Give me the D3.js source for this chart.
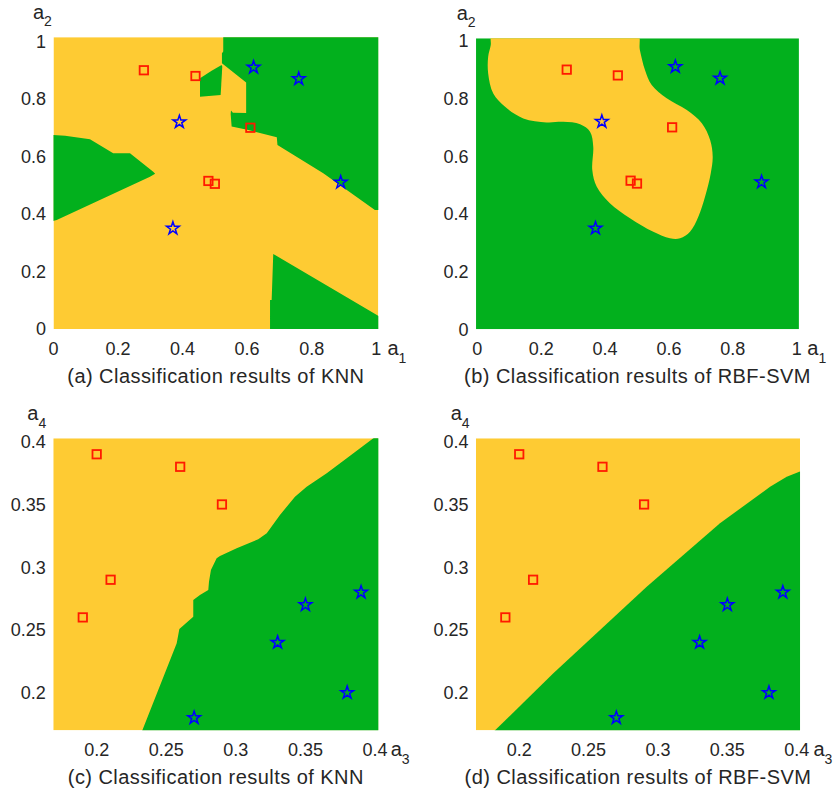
<!DOCTYPE html>
<html>
<head>
<meta charset="utf-8">
<script src="https://cdn.jsdelivr.net/npm/d3@7"></script>
<style>
body { margin: 0; background: #fff; }
text { font-family: "Liberation Sans", Arial, Helvetica, sans-serif; fill: #262626; }
</style>
</head>
<body>
<div id="chart"></div>
<script>
// training samples in the a1/a2 plane (panels a and b)
var squares12 = [[0.28, 0.90], [0.44, 0.88], [0.61, 0.70], [0.48, 0.515], [0.50, 0.505]];
var stars12 = [[0.62, 0.91], [0.76, 0.87], [0.39, 0.72], [0.89, 0.51], [0.37, 0.35]];

// training samples in the a3/a4 plane (panels c and d)
var squares34 = [[0.20, 0.39], [0.26, 0.38], [0.29, 0.35], [0.21, 0.29], [0.19, 0.26]];
var stars34 = [[0.27, 0.18], [0.33, 0.24], [0.35, 0.27], [0.38, 0.20], [0.39, 0.28]];

var ticks12 = [0, 0.2, 0.4, 0.6, 0.8, 1];
var ticks34 = [0.2, 0.25, 0.3, 0.35, 0.4];

// decision regions (data coordinates)
var knn12Green = [
  [[0.526, 1.03], [0.526, 0.965], [0.522, 0.959], [0.522, 0.924], [0.597, 0.857], [0.597, 0.751],
   [0.556, 0.752], [0.550, 0.760], [0.549, 0.748], [0.552, 0.704], [0.604, 0.692], [0.692, 0.667],
   [0.694, 0.640], [0.836, 0.542], [0.996, 0.414], [1.02, 0.414], [1.02, 1.03]],
  [[0.454, 0.872], [0.490, 0.898], [0.521, 0.918], [0.523, 0.912], [0.518, 0.814], [0.454, 0.808]],
  [[-0.01, 0.675], [0.036, 0.672], [0.113, 0.660], [0.185, 0.611], [0.237, 0.611], [0.309, 0.547],
   [0.315, 0.540], [0.299, 0.530], [0.010, 0.379], [-0.01, 0.373]],
  [[0.681, 0.261], [1.02, 0.037], [1.02, -0.01], [0.671, -0.01], [0.671, 0.101], [0.676, 0.101]]
];

var svm12Yellow = [
  [0.048, 1.03], [0.499, 1.03], [0.509, 0.968], [0.525, 0.899], [0.546, 0.847], [0.593, 0.801],
  [0.656, 0.760], [0.703, 0.714], [0.729, 0.656], [0.737, 0.598], [0.731, 0.541], [0.713, 0.459],
  [0.692, 0.390], [0.666, 0.338], [0.635, 0.315], [0.603, 0.315], [0.551, 0.338], [0.478, 0.385],
  [0.415, 0.437], [0.374, 0.494], [0.360, 0.552], [0.363, 0.633], [0.353, 0.685], [0.322, 0.711],
  [0.269, 0.719], [0.217, 0.717], [0.144, 0.731], [0.087, 0.771], [0.050, 0.817], [0.034, 0.887],
  [0.034, 0.945], [0.042, 0.985]
];

var knn34Green = [
  [[0.3988, 0.4027], [0.41, 0.41], [0.41, 0.165], [0.231, 0.165], [0.2575, 0.2394], [0.2594, 0.2508],
   [0.2694, 0.2606], [0.2694, 0.2739], [0.2742, 0.2778], [0.2802, 0.2818], [0.2807, 0.2884],
   [0.2821, 0.2978], [0.2862, 0.3071], [0.2886, 0.3089], [0.3006, 0.3151], [0.3161, 0.3222],
   [0.3222, 0.3270], [0.3317, 0.3416], [0.3425, 0.3562], [0.3509, 0.3641], [0.3653, 0.3748],
   [0.3797, 0.3868]]
];

var svm34Green = [
  [[0.178, 0.165], [0.1826, 0.17], [0.2246, 0.2155], [0.2919, 0.2845], [0.3447, 0.3350],
   [0.3808, 0.3641], [0.3928, 0.3721], [0.4019, 0.3761], [0.41, 0.378], [0.41, 0.165]]
];

var yellow = '#fecb33';
var green = '#02b01d';

var panels = [
  {caption: '(a) Classification results of KNN', xDomain: [0, 1], yDomain: [0, 1],
   xRange: [53.5, 376.2], yRange: [329, 41.5], ext: [[0, 1.0065], [0, 1.015]],
   ticks: ticks12, xSub: '1', ySub: '2', bg: yellow, fg: green, regions: knn12Green, smooth: false,
   squares: squares12, stars: stars12, xLabDx: 9.2, yLabDx: -20.6},
  {caption: '(b) Classification results of RBF-SVM', xDomain: [0, 1], yDomain: [0, 1],
   xRange: [477.3, 796.7], yRange: [329.2, 40.8], ext: [[-0.004, 1.007], [0, 1.0087]],
   ticks: ticks12, xSub: '1', ySub: '2', bg: green, fg: yellow, regions: [svm12Yellow], smooth: true,
   squares: squares12, stars: stars12, xLabDx: 8.4, yLabDx: -19.3},
  {caption: '(c) Classification results of KNN', xDomain: [0.17, 0.4], yDomain: [0.17, 0.4],
   xRange: [54.95, 375], yRange: [730.35, 441.7], ext: [[0.1688, 0.4024], [0.17, 0.4027]],
   ticks: ticks34, xSub: '3', ySub: '4', bg: yellow, fg: green, regions: knn34Green, smooth: false,
   squares: squares34, stars: stars34, xLabDx: 12.4, yLabDx: -26},
  {caption: '(d) Classification results of RBF-SVM', xDomain: [0.17, 0.4], yDomain: [0.17, 0.4],
   xRange: [477.6, 796.7], yRange: [730.35, 441.7], ext: [[0.1688, 0.4024], [0.17, 0.4027]],
   ticks: ticks34, xSub: '3', ySub: '4', bg: yellow, fg: green, regions: svm34Green, smooth: false,
   squares: squares34, stars: stars34, xLabDx: 13.4, yLabDx: -25.3}
];

var svg = d3.select('#chart')
  .append('svg')
  .attr('width', 834)
  .attr('height', 793);

panels.forEach(function(p, i) {
  drawPanel(p, i);
});

function drawPanel(p, i) {
  var x = d3.scaleLinear().domain(p.xDomain).range(p.xRange);
  var y = d3.scaleLinear().domain(p.yDomain).range(p.yRange);

  var left = x(p.ext[0][0]), right = x(p.ext[0][1]);
  var top = y(p.ext[1][1]), bottom = y(p.ext[1][0]);

  var g = svg.append('g');

  g.append('clipPath')
    .attr('id', 'clip' + i)
    .append('rect')
    .attr('x', left).attr('y', top)
    .attr('width', right - left).attr('height', bottom - top);

  var area = g.append('g').attr('clip-path', 'url(#clip' + i + ')');

  area.append('rect')
    .attr('x', left).attr('y', top)
    .attr('width', right - left).attr('height', bottom - top)
    .attr('fill', p.bg);

  var line = d3.line()
    .x(function(d) { return x(d[0]); })
    .y(function(d) { return y(d[1]); })
    .curve(p.smooth ? d3.curveCatmullRomClosed.alpha(0.5) : d3.curveLinearClosed);

  area.selectAll('path.region')
    .data(p.regions)
    .enter()
    .append('path')
    .attr('class', 'region')
    .attr('d', line)
    .attr('fill', p.fg);

  // samples
  g.selectAll('rect.sq')
    .data(p.squares)
    .enter()
    .append('rect')
    .attr('class', 'sq')
    .attr('x', function(d) { return x(d[0]) - 4.2; })
    .attr('y', function(d) { return y(d[1]) - 4.2; })
    .attr('width', 8.4).attr('height', 8.4)
    .attr('fill', 'none')
    .attr('stroke', '#ff1a00')
    .attr('stroke-width', 1.8);

  var star = d3.symbol().type(d3.symbolStar).size(50);
  g.selectAll('path.star')
    .data(p.stars)
    .enter()
    .append('path')
    .attr('class', 'star')
    .attr('d', star)
    .attr('transform', function(d) { return 'translate(' + x(d[0]) + ',' + y(d[1]) + ')'; })
    .attr('fill', 'none')
    .attr('stroke', '#0000ff')
    .attr('stroke-width', 1.5)
    .attr('stroke-linejoin', 'miter');

  // tick labels, no axis lines as in the original
  g.selectAll('text.xt')
    .data(p.ticks)
    .enter()
    .append('text')
    .attr('class', 'xt')
    .attr('x', function(d) { return x(d); })
    .attr('y', bottom + 26)
    .attr('text-anchor', 'middle')
    .attr('font-size', '18px')
    .text(function(d) { return String(d); });

  g.selectAll('text.yt')
    .data(p.ticks)
    .enter()
    .append('text')
    .attr('class', 'yt')
    .attr('x', left - 7.5)
    .attr('y', function(d) { return y(d); })
    .attr('dy', '0.36em')
    .attr('text-anchor', 'end')
    .attr('font-size', '18px')
    .text(function(d) { return String(d); });

  // axis names with subscripts
  var xl = g.append('text')
    .attr('x', right + p.xLabDx)
    .attr('y', bottom + 26)
    .attr('font-size', '20px');
  xl.append('tspan').text('a');
  xl.append('tspan').attr('dy', 7.7).attr('font-size', '14px').text(p.xSub);

  var yl = g.append('text')
    .attr('x', left + p.yLabDx)
    .attr('y', top - 18.5)
    .attr('font-size', '20px');
  yl.append('tspan').text('a');
  yl.append('tspan').attr('dy', 7.7).attr('font-size', '14px').text(p.ySub);

  g.append('text')
    .attr('x', (left + right) / 2)
    .attr('y', bottom + 54)
    .attr('text-anchor', 'middle')
    .attr('font-size', '20px')
    .attr('letter-spacing', '0.45px')
    .text(p.caption);
}
</script>
</body>
</html>
